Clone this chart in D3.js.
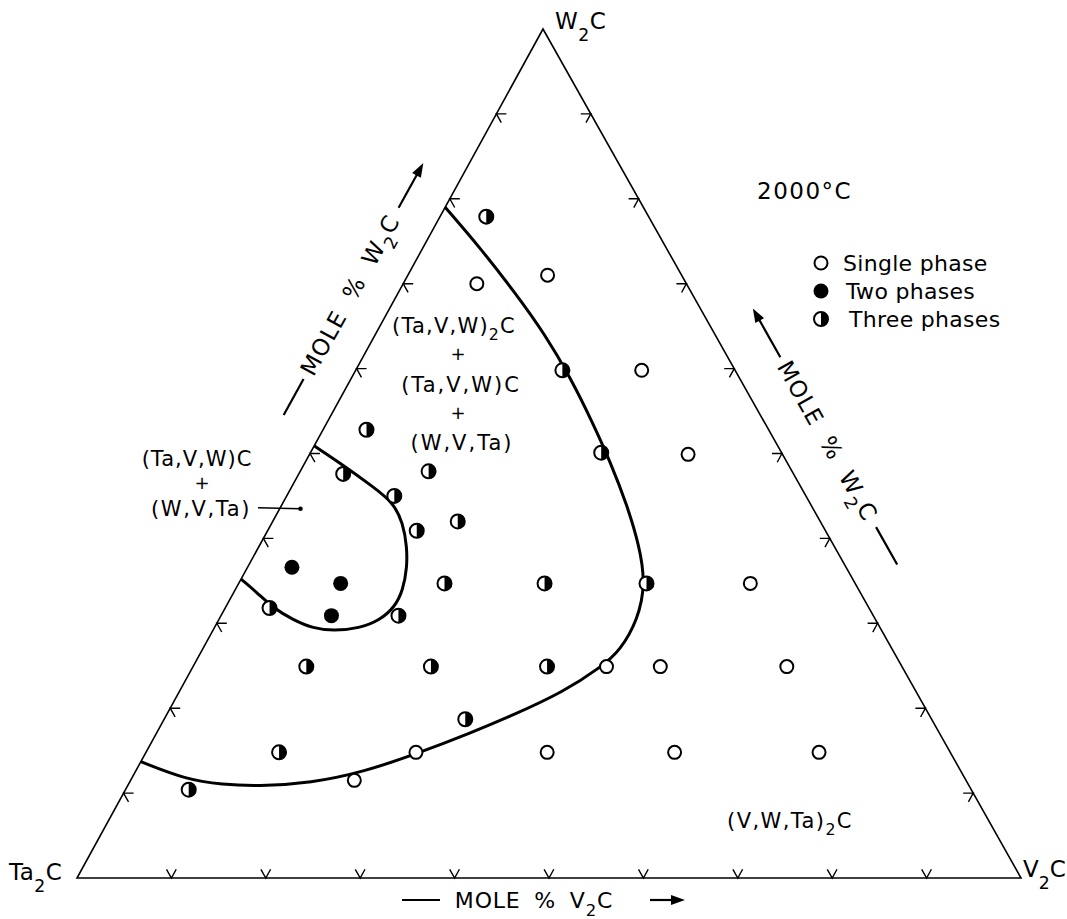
<!DOCTYPE html>
<html>
<head>
<meta charset="utf-8">
<style>
    body { margin: 0; background: white; }
    svg { display: block; font-family: 'DejaVu Sans', sans-serif; fill: #000; }
</style>
</head>
<body>
<svg id="chart" width="1067" height="919"></svg>
<script src="https://d3js.org/d3.v7.min.js"></script>
<script>
// compositions are [mole % V2C, mole % W2C], Ta2C is the balance
const singlePhase = [
    [7.8, 70.0], [14.8, 71.0], [30.3, 59.8], [40.1, 49.9], [54.2, 34.7],
    [43.8, 24.9], [49.5, 24.9], [62.9, 24.9], [28.6, 14.8], [42.5, 14.8],
    [56.0, 14.8], [71.3, 14.8], [23.7, 11.5]
]
const twoPhases = [[4.7, 36.6], [10.8, 34.7], [11.7, 30.9]]
const threePhases = [
    [4.9, 77.9], [21.9, 59.8], [4.6, 52.8], [30.8, 50.1], [4.7, 47.6],
    [13.6, 47.9], [11.4, 45.0], [19.6, 42.0], [15.8, 40.9], [21.8, 34.7],
    [32.4, 34.7], [43.2, 34.7], [4.7, 31.8], [18.8, 30.9], [12.0, 24.9],
    [25.2, 24.9], [37.5, 24.9], [31.9, 18.7], [14.1, 14.8], [6.7, 10.4]
]
// phase boundaries (end points repeated so the spline reaches the edge)
const outerBoundary = [
    [0, 79.0], [0, 79.0], [6.1, 74.2], [12.3, 69.0], [18.0, 64.0], [23.2, 58.9],
    [27.9, 53.9], [32.4, 48.9], [36.6, 43.9], [40.2, 39.2], [43.1, 34.7],
    [44.4, 30.4], [44.3, 26.8], [43.3, 24.9], [40.7, 21.9], [36.6, 19.1],
    [33.3, 17.1], [28.9, 14.7], [24.2, 12.5], [19.3, 11.2], [13.8, 10.8],
    [10.0, 11.0], [5.8, 11.6], [0, 13.7], [0, 13.7]
]
const innerBoundary = [
    [0, 50.9], [0, 50.9], [3.7, 48.9], [8.6, 46.1], [11.7, 44.2], [13.9, 41.8],
    [15.7, 39.0], [16.9, 36.6], [17.8, 33.9], [17.9, 31.9], [17.1, 30.4],
    [15.4, 29.4], [12.8, 29.1], [10.5, 29.4], [7.9, 30.4], [5.1, 31.8],
    [2.5, 33.6], [0, 35.2], [0, 35.2]
]
const tickValues = [10, 20, 30, 40, 50, 60, 70, 80, 90]
const legendItems = ["Single phase", "Two phases", "Three phases"]
const leaderDot = [2.2, 43.5]

let svg = d3.select("#chart")

// ternary scales: V2C runs along the base, W2C raises toward the apex
let xV = d3.scaleLinear().domain([0, 100]).range([77, 1021])
let xW = d3.scaleLinear().domain([0, 100]).range([0, 466])
let yW = d3.scaleLinear().domain([0, 100]).range([878, 29])
let px = d => [xV(d[0]) + xW(d[1]), yW(d[1])]

let ta = px([0, 0]), v2 = px([100, 0]), w2 = px([0, 100])

svg.append("path")
    .attr("d", d3.line()([ta, v2, w2]) + "Z")
    .style("fill", "none")
    .style("stroke", "#000")
    .style("stroke-width", 1.6)

// chevron ticks: two short arms parallel to the other two sides
let unit = (a, b) => {
    let dx = b[0] - a[0], dy = b[1] - a[1], l = Math.hypot(dx, dy)
    return [dx / l, dy / l]
}
let sides = [
    { at: k => [k, 0], arms: [unit(ta, w2), unit(v2, w2)] },
    { at: k => [0, k], arms: [unit(ta, v2), unit(w2, v2)] },
    { at: k => [100 - k, k], arms: [unit(v2, ta), unit(w2, ta)] }
]
let armLen = 10
sides.forEach(s => {
    svg.append("g").selectAll("path")
        .data(tickValues)
        .join("path")
        .attr("d", k => {
            let p = px(s.at(k)), a = s.arms[0], b = s.arms[1]
            return `M${p[0] + a[0] * armLen},${p[1] + a[1] * armLen}L${p[0]},${p[1]}L${p[0] + b[0] * armLen},${p[1] + b[1] * armLen}`
        })
        .style("fill", "none")
        .style("stroke", "#000")
        .style("stroke-width", 1.4)
})

// phase boundaries
let boundary = d3.line()
    .x(d => px(d)[0])
    .y(d => px(d)[1])
    .curve(d3.curveBasis)

svg.append("g").selectAll("path")
    .data([outerBoundary, innerBoundary])
    .join("path")
    .attr("d", boundary)
    .style("fill", "none")
    .style("stroke", "#000")
    .style("stroke-width", 3)

// markers
function openMark(g, r) {
    g.append("circle").attr("r", r || 6.5)
        .style("fill", "#fff").style("stroke", "#000").style("stroke-width", 2)
}
function fullMark(g, r) {
    g.append("circle").attr("r", r || 7.5).style("fill", "#000")
}
function halfMark(g, r) {
    r = r || 7
    g.append("circle").attr("r", r)
        .style("fill", "#fff").style("stroke", "#000").style("stroke-width", 2)
    g.append("path").attr("d", `M0,${-r}A${r},${r} 0 0 1 0,${r}Z`).style("fill", "#000")
}

let drawSet = (data, fn) => {
    svg.append("g").selectAll("g")
        .data(data)
        .join("g")
        .attr("transform", d => `translate(${px(d)})`)
        .each(function () { fn(d3.select(this)) })
}
drawSet(singlePhase, openMark)
drawSet(twoPhases, fullMark)
drawSet(threePhases, halfMark)

// text with _2 style subscripts
function chem(g, str, x, y, size, anchor, spacing, subDrop) {
    let t = g.append("text")
        .attr("x", x).attr("y", y)
        .attr("text-anchor", anchor || "start")
        .style("font-size", size + "px")
        .style("letter-spacing", (spacing || 0) + "px")
    let shift = 0
    str.split(/(_\d)/).filter(s => s).forEach(s => {
        let sub = s[0] === "_"
        let target = sub ? size * (subDrop || 0.42) : 0
        t.append("tspan")
            .attr("dy", target - shift)
            .style("font-size", sub ? size * 0.75 + "px" : null)
            .text(sub ? s.slice(1) : s)
        shift = target
    })
    return t
}

// corner labels
chem(svg, "W_2C", 555, 29, 23, "start", 0.5, 0.5)
chem(svg, "Ta_2C", 9, 880, 23, "start", 0.5, 0.5)
chem(svg, "V_2C", 1023, 877, 23, "start", 0, 0.5)

chem(svg, "2000°C", 757, 199, 23, "start", 1.5)

// legend
let legend = svg.append("g")
legendItems.forEach((name, i) => {
    let cy = 263 + i * 28
    let g = legend.append("g").attr("transform", `translate(821,${cy})`)
    ;[openMark, fullMark, halfMark][i](g, [6.5, 7.5, 7][i])
    chem(legend, name, [843, 846, 849][i], cy + 8, 22, "start", 0.3)
})

// region labels
chem(svg, "(Ta,V,W)_2C", 454, 333, 21, "middle", 1.2, 0.35)
chem(svg, "+", 458, 360, 18, "middle")
chem(svg, "(Ta,V,W)C", 461, 392, 21, "middle", 2)
chem(svg, "+", 458, 419, 18, "middle")
chem(svg, "(W,V,Ta)", 462, 450, 21, "middle", 2)

chem(svg, "(Ta,V,W)C", 197, 466, 21, "middle", 1)
chem(svg, "+", 202, 489, 18, "middle")
chem(svg, "(W,V,Ta)", 201, 516, 21, "middle", 1.6)

chem(svg, "(V,W,Ta)_2C", 790, 828, 21, "middle", 1.4, 0.35)

// leader from the (W,V,Ta) label into the two phase field
let dot = px(leaderDot)
svg.append("line")
    .attr("x1", 258).attr("y1", dot[1] - 1)
    .attr("x2", dot[0]).attr("y2", dot[1])
    .style("stroke", "#000").style("stroke-width", 1.6)
svg.append("circle").attr("cx", dot[0]).attr("cy", dot[1]).attr("r", 2.3)

// axis titles: dash, text, arrow along each side
function axisTitle(cx, cy, angle, parts) {
    let g = svg.append("g").attr("transform", `translate(${cx},${cy}) rotate(${angle})`)
    g.append("line")
        .attr("x1", parts.dash[0]).attr("x2", parts.dash[1])
        .attr("y1", 0).attr("y2", 0)
        .style("stroke", "#000").style("stroke-width", 2.2)
    let a0 = parts.arrow[0], a1 = parts.arrow[1], sg = Math.sign(a1 - a0)
    g.append("line")
        .attr("x1", a0).attr("x2", a1 - sg * 9)
        .attr("y1", 0).attr("y2", 0)
        .style("stroke", "#000").style("stroke-width", 2.2)
    g.append("path")
        .attr("d", `M${a1},0L${a1 - sg * 14},-5L${a1 - sg * 14},5Z`)
    chem(g, parts.text, parts.mid, 8, parts.size, "middle", parts.spacing, 0.35)
        .style("word-spacing", parts.words + "px")
}
axisTitle(543, 900, 0, { dash: [-141, -103], arrow: [107, 142], text: "MOLE % V_2C", mid: -9, size: 22, spacing: 0.8, words: 6 })
axisTitle(353.5, 289, -61, { dash: [-144, -103], arrow: [93, 144], text: "MOLE % W_2C", mid: -7, size: 23, spacing: 1.2, words: 8 })
axisTitle(825, 436.5, 60.6, { dash: [104, 147], arrow: [-91, -147], text: "MOLE % W_2C", mid: 5, size: 23, spacing: 1.2, words: 8 })
</script>
</body>
</html>
